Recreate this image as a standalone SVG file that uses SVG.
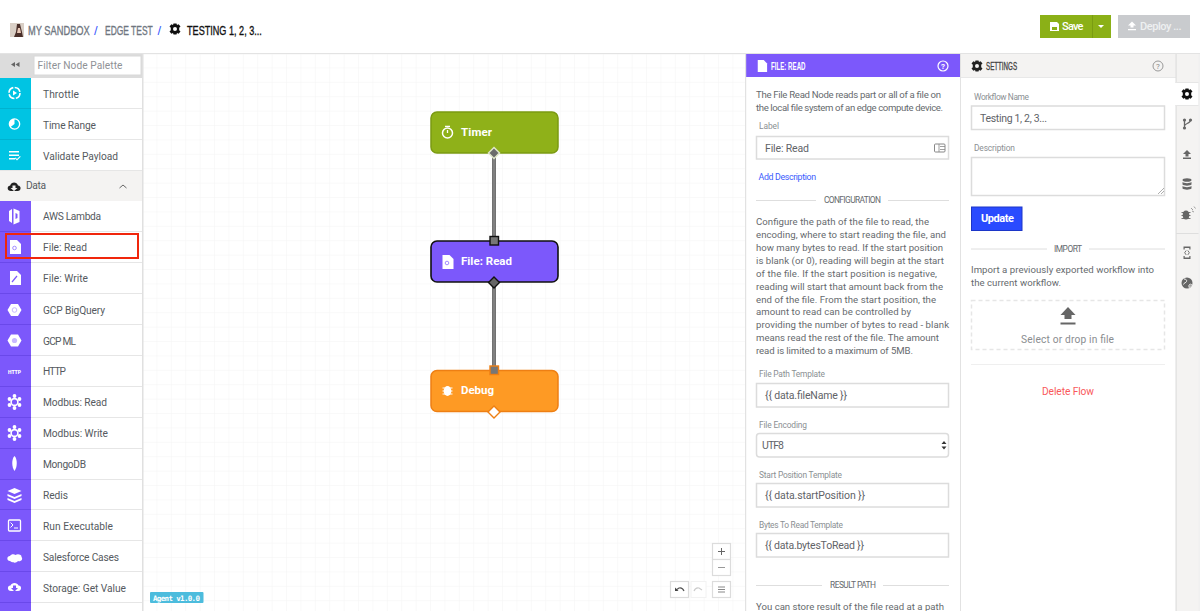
<svg xmlns="http://www.w3.org/2000/svg" width="1200" height="611" viewBox="0 0 1200 611">
<style>
text{font-family:Roboto,"Open Sans","Noto Sans","Liberation Sans",sans-serif;fill:#5f6368}
.cond{font-family:"Liberation Sans",Arial,sans-serif;font-size:13px;stroke-width:.35px}
.pal{font-size:10.200px;fill:#555a60}
.p{font-size:9.600px;fill:#666a6e}
.lb{font-size:8.400px;fill:#8b8f93}
.in{fill:#fff;stroke:#dcdcdc;stroke-width:1.5}
.val{font-size:10.500px;fill:#5f6368}
.sec{font-size:8.400px;fill:#666a6e}
.rule{stroke:#dedede;stroke-width:1;fill:none}
.ni{font-size:11.500px;font-weight:700;fill:#fff}
.ic{fill:#fff}
.ctl{fill:#fff;stroke:#dcdcdc;stroke-width:1.2}
</style>
<defs>
<pattern id="grid" width="14.4" height="14.4" patternUnits="userSpaceOnUse" x="143" y="54">
<path d="M14.4 0V14.4M0 14.4H14.4" fill="none" stroke="#f3f3f3" stroke-width="1"/>
</pattern>
<path id="doc" d="M-5-7H2L6-3V7H-5Z"/>
<path id="gear" d="M-1.500-5.500H1.500L2-4 3.600-4.700 5.500-2.400 4.200-1.200V1.200L5.500 2.400 3.600 4.700 2 4 1.500 5.500H-1.500L-2 4-3.600 4.700-5.500 2.400-4.200 1.200V-1.200L-5.500-2.400-3.600-4.700-2-4ZM0-2A2 2 0 1 0 0 2 2 2 0 1 0 0-2Z" fill-rule="evenodd"/>
<path id="hex" d="M-3.500-6H3.500L7 0 3.500 6H-3.500L-7 0Z"/>
<g id="mod"><circle r="3.400" fill="none" stroke="#fff" stroke-width="1.600"/><circle cx="-5" cy="-3" r="1.900"/><circle cx="5" cy="-3" r="1.900"/><circle cx="-5" cy="3" r="1.900"/><circle cx="5" cy="3" r="1.900"/><circle cy="-6" r="1.900"/><circle cy="6" r="1.900"/></g>
</defs>

<rect width="1200" height="611" fill="#fff"/>

<!-- header -->
<g id="header">
<rect x="10" y="23" width="14" height="14" fill="#d9cfc6"/>
<path d="M17 24h3l2 8 1 5h-9l2-5Z" fill="#4a2f2a"/>
<path d="M18 28h2l1 5h-4Z" fill="#e9c9b8"/>
<text transform="translate(28 34.500) scale(.715 1)" class="cond" style="fill:#6f7680;stroke:#6f7680">MY SANDBOX</text>
<text x="94" y="34.500" class="cond" style="fill:#3b5bfd">/</text>
<text transform="translate(105 34.500) scale(.65 1)" class="cond" style="fill:#6f7680;stroke:#6f7680">EDGE TEST</text>
<text x="157.500" y="34.500" class="cond" style="fill:#3b5bfd">/</text>
<use href="#gear" transform="translate(175 29)" style="fill:#111"/>
<text transform="translate(187 34.500) scale(.7 1)" class="cond" style="fill:#111;stroke:#111">TESTING 1, 2, 3...</text>
<rect x="1040" y="15" width="71" height="23" fill="#8bb017"/>
<path d="M1092.500 15V38" stroke="#7a9c12" stroke-width="1"/>
<path d="M1050 22h7l2 2v7h-9Z" fill="#fff"/>
<rect x="1052" y="27" width="5" height="3" fill="#8bb017"/>
<text x="1062" y="30" font-size="11" font-weight="500" style="fill:#fff" textLength="21.500">Save</text>
<path d="M1098 25h6l-3 3Z" fill="#fff"/>
<rect x="1118" y="15" width="72" height="23" fill="#c9cbce"/>
<path d="M1132 21.500l4 4h-2.500v2h-3v-2H1128ZM1128 29h8v1.200h-8Z" fill="#fff"/>
<text x="1140" y="30" font-size="11" font-weight="500" style="fill:#eef0f1" textLength="41.500">Deploy ...</text>
<rect x="0" y="53" width="1200" height="1.200" fill="#e3e3e3"/>
</g>

<!-- canvas -->
<rect x="143" y="54" width="603" height="557" fill="url(#grid)"/>

<!-- palette -->
<g id="palette">
<rect x="0" y="54" width="142" height="557" fill="#f4f3f2"/>
<rect x="0" y="54" width="142" height="24" fill="#dcdcdc"/>
<rect x="34" y="56" width="107" height="19" fill="#fff" stroke="#d8d8d8"/>
<text x="37.500" y="69" font-size="10.200" style="fill:#8f9296" textLength="85">Filter Node Palette</text>
<path d="M15 62v5l-4-2.500ZM19.500 62v5l-4-2.500Z" fill="#666"/>
<rect x="142" y="54" width="1.500" height="557" fill="#e0e0e0"/>
<g id="rows" fill="#fff">
<rect x="31" y="78" width="111" height="30"/><rect x="31" y="109" width="111" height="30"/><rect x="31" y="140" width="111" height="30"/>
<rect x="31" y="201" width="111" height="30"/><rect x="31" y="232" width="111" height="30"/><rect x="31" y="263" width="111" height="30"/><rect x="31" y="294" width="111" height="30"/><rect x="31" y="325" width="111" height="30"/><rect x="31" y="356" width="111" height="30"/><rect x="31" y="387" width="111" height="30"/><rect x="31" y="418" width="111" height="30"/><rect x="31" y="449" width="111" height="30"/><rect x="31" y="480" width="111" height="30"/><rect x="31" y="510" width="111" height="30"/><rect x="31" y="541" width="111" height="30"/><rect x="31" y="572" width="111" height="30"/><rect x="31" y="603" width="111" height="8"/>
</g>
<rect x="0" y="78" width="31" height="93" fill="#00c4e3"/>
<rect x="0" y="201" width="31" height="410" fill="#7c58fb"/>
<g stroke="#e6e6e6" stroke-width="1" fill="none"><path d="M0 108.500H142M0 139.500H142M0 170.500H142M0 231.500H142M0 262.500H142M0 293.500H142M0 324.500H142M0 355.500H142M0 386.500H142M0 417.500H142M0 448.500H142M0 479.500H142M0 509.500H142M0 540.500H142M0 571.500H142M0 602.500H142"/></g>
<g stroke="#6a48ea" stroke-width="1" fill="none"><path d="M0 231.500H31M0 262.500H31M0 293.500H31M0 324.500H31M0 355.500H31M0 386.500H31M0 417.500H31M0 448.500H31M0 479.500H31M0 509.500H31M0 540.500H31M0 571.500H31M0 602.500H31"/></g>
<path d="M0 108.500H31M0 139.500H31" stroke="#00b2cf"/>

<g>
<text class="pal" x="43" y="97.500" textLength="36">Throttle</text>
<text class="pal" x="43" y="128.500" textLength="53">Time Range</text>
<text class="pal" x="43" y="159.500" textLength="75">Validate Payload</text>
<text class="pal" x="26" y="189" textLength="20">Data</text>
<text class="pal" x="43" y="220" textLength="58">AWS Lambda</text>
<text class="pal" x="43" y="251" textLength="44">File: Read</text>
<text class="pal" x="43" y="282" textLength="45">File: Write</text>
<text class="pal" x="43" y="313.500" textLength="62">GCP BigQuery</text>
<text class="pal" x="43" y="344.500" textLength="33">GCP ML</text>
<text class="pal" x="43" y="375" textLength="23">HTTP</text>
<text class="pal" x="43" y="406" textLength="64">Modbus: Read</text>
<text class="pal" x="43" y="437" textLength="65">Modbus: Write</text>
<text class="pal" x="43" y="468" textLength="43">MongoDB</text>
<text class="pal" x="43" y="499" textLength="25">Redis</text>
<text class="pal" x="43" y="529.500" textLength="70">Run Executable</text>
<text class="pal" x="43" y="560.500" textLength="76">Salesforce Cases</text>
<text class="pal" x="43" y="591.500" textLength="83">Storage: Get Value</text>
</g>

<!-- palette icons -->
<g class="ic">
<circle cx="14.500" cy="93" r="5.500" fill="none" stroke="#fff" stroke-width="1.600" stroke-dasharray="7 1.500"/><path d="M13 90.500l4 2.500-4 2.500Z"/>
<circle cx="14.500" cy="124" r="5.800"/><path d="M14.500 124v-4.500a4.500 4.500 0 0 1 0 9 4.500 4.500 0 0 1-3.600-1.800Z" fill="#00c4e3"/>
<path d="M9 151h10v1.500H9ZM9 154.500h10v1.500H9ZM9 158h6v1.500H9ZM15.500 157.500l1.500 1.500 3-3 .7.7-3.700 3.800-2.200-2.300Z"/>
<path d="M11 191c-4 0-4.500-5-.8-5.500 1-4 6.800-4 7.800 0 3.500.3 3.500 5.500-.3 5.500Z" style="fill:#222"/>
<path d="M12.500 185.500h3v2.500h2l-3.500 3-3.500-3h2Z" fill="#f4f3f2"/>
<path d="M119.500 188l3.500-3 3.500 3" fill="none" stroke="#666" stroke-width="1"/>
<path d="M9 211l3-2v14l-3-2ZM13.500 208.500l6 2.500v11l-6 2.500ZM15.500 213v6l2-1v-4Z" fill-rule="evenodd"/>
<use href="#doc" x="15" y="247"/><use href="#doc" x="15" y="278"/>
<circle cx="14.500" cy="248" r="1.800" fill="none" stroke="#a48cff"/>
<path d="M12 282l5-6" stroke="#7c58fb" stroke-width="1.200"/>
<use href="#hex" x="14.500" y="310"/><circle cx="14.500" cy="310" r="2.300" fill="none" stroke="#c9b9ff"/>
<use href="#hex" x="14.500" y="340.500"/><circle cx="14.500" cy="340.500" r="2.600" fill="#c9b9ff"/>
<text x="14.500" y="373.500" font-size="5" font-weight="900" text-anchor="middle" style="fill:#fff">HTTP</text>
<use href="#mod" x="14.500" y="402"/><use href="#mod" x="14.500" y="433"/>
<path d="M14.500 456c3 3 3 11 0 15-3-4-3-12 0-15Z"/>
<path d="M14.500 488l7 3-7 3-7-3ZM7.500 494l7 3 7-3v2l-7 3-7-3ZM7.500 498l7 3 7-3v2l-7 3-7-3Z"/>
<rect x="8.500" y="520" width="12" height="11" rx="1" fill="none" stroke="#fff" stroke-width="1.300"/><path d="M10.500 522.500l2.500 2.500-2.500 2.500M14 528h4" fill="none" stroke="#fff"/>
<path d="M10 561c-3.500 0-3.500-5 0-5 1-2 4-2.500 5.500-1 2-1.500 6.500-.5 6 2 2 2.500-1 5-3.500 4-1.500 2-4 2-5 1-1 .5-2 0-3-1Z"/>
<path d="M11 591c-4 0-4-5.500-.5-5.500 1-3.500 7-3.500 8 0 3.500 0 3.500 5.500-.5 5.500Z"/><path d="M13 585.500h3v2.500h2l-3.500 3.500-3.500-3.500h2Z" fill="#7c58fb"/>
</g>
<rect x="6" y="234" width="132" height="24" fill="none" stroke="#f0260c" stroke-width="2"/>
</g>

<!-- bottom canvas widgets -->
<g id="agent">
<rect x="150" y="592" width="53.500" height="11" rx="1" fill="#4cbcdd"/>
<text x="153" y="600.500" font-size="7.500" font-weight="700" style="font-family:'DejaVu Sans Mono','Liberation Mono',monospace;fill:#fff" textLength="47">Agent v1.0.0</text>
</g>
<g id="controls">
<rect class="ctl" x="712.500" y="543.500" width="18" height="16"/>
<rect class="ctl" x="712.500" y="559.500" width="18" height="16"/>
<path d="M718 551.500h7M721.500 548v7" stroke="#666" stroke-width="1" fill="none"/>
<path d="M718 567.500h7" stroke="#999" stroke-width="1"/>
<rect class="ctl" x="670.500" y="581.500" width="18" height="16"/>
<rect x="691" y="581.500" width="15" height="16" fill="#fff" stroke="#f2f2f2"/>
<path d="M676 590l3-2c2-.5 4 .5 5 3" fill="none" stroke="#555" stroke-width="1.200"/><path d="M675 587.500v3.500h3.500Z" fill="#444"/>
<path d="M702 590l-3-2c-2-.5-4 .5-5 3" fill="none" stroke="#ccc" stroke-width="1.200"/>
<rect class="ctl" x="712.500" y="581.500" width="18" height="16"/>
<path d="M718 587h7M718 589.500h7M718 592h7" stroke="#888" stroke-width="1" fill="none"/>
</g>

<!-- connectors -->
<g id="connectors" fill="none">
<path d="M494 153V241" stroke="#4e4e4e" stroke-width="3.600"/><path d="M494 153V241" stroke="#808080" stroke-width="2"/>
<path d="M494 282V370" stroke="#4e4e4e" stroke-width="3.600"/><path d="M494 282V370" stroke="#808080" stroke-width="2"/>
</g>

<!-- nodes -->
<g id="node-timer">
<rect x="431" y="112" width="127" height="41" rx="6" fill="#8fb119" stroke="#7b9a12" stroke-width="1.500"/>
<circle cx="447.500" cy="133" r="5" fill="none" stroke="#fff" stroke-width="1.500"/><path d="M445 126.300h5M447.500 130v3" stroke="#fff" stroke-width="1.300"/>
<text class="ni" x="461" y="136" textLength="31">Timer</text>
<path d="M494 147.500l5.500 5.500-5.500 5.500-5.500-5.500Z" fill="#6b6b6b" stroke="#dfe6c8" stroke-width="1.500"/>
</g>
<g id="node-file-read">
<rect x="431" y="241" width="127" height="41" rx="6" fill="#7c58fb" stroke="#111" stroke-width="1.600"/>
<use href="#doc" x="447.500" y="262" fill="#fff"/><circle cx="447" cy="263" r="1.800" fill="none" stroke="#a48cff"/>
<text class="ni" x="461" y="265" textLength="51">File: Read</text>
<rect x="490" y="236.500" width="8.500" height="8.500" fill="#777" stroke="#111" stroke-width="1.400"/>
<path d="M494 277l5.500 5.500-5.500 5.500-5.500-5.500Z" fill="#666" stroke="#111" stroke-width="1.400"/>
</g>
<g id="node-debug">
<rect x="431" y="370.500" width="127" height="41" rx="6" fill="#fe9a24" stroke="#ee7f13" stroke-width="1.500"/>
<ellipse cx="447.500" cy="391" rx="3.800" ry="5" fill="#fff"/><path d="M442.500 388h10M442.500 391h10M442.500 394h10" stroke="#fff" fill="none"/>
<text class="ni" x="461" y="394" textLength="33">Debug</text>
<rect x="490" y="366" width="8.500" height="8.500" fill="#777" stroke="#ee7f13" stroke-width="1.400"/>
<path d="M494 406l6 6-6 6-6-6Z" fill="#fff" stroke="#ee7f13" stroke-width="1.400"/>
</g>

<!-- file read panel -->
<g id="panel-file-read">
<rect x="746" y="54" width="215" height="557" fill="#fff"/>
<rect x="746" y="54" width="215" height="23" fill="#7c58fb"/>
<rect x="745" y="54" width="1.200" height="557" fill="#e2e2e2"/>
<rect x="960" y="54" width="1" height="557" fill="#e2e2e2"/>
<use href="#doc" transform="translate(762 66) scale(.85)" fill="#fff"/>
<text transform="translate(771 70) scale(.56 1)" class="cond" font-weight="700" style="font-size:11px;fill:#fff">FILE: READ</text>
<circle cx="943" cy="66" r="5" fill="none" stroke="#fff" stroke-width="1.200"/>
<text x="943" y="69" font-size="8" font-weight="700" text-anchor="middle" style="fill:#fff">?</text>
<text class="p" x="756" y="97.500" textLength="185">The File Read Node reads part or all of a file on</text>
<text class="p" x="756" y="110.500" textLength="187">the local file system of an edge compute device.</text>
<text class="lb" x="759" y="129" textLength="20">Label</text>
<rect class="in" x="756.500" y="136.500" width="192" height="22.500"/>
<text class="val" x="765" y="151.500" textLength="44">File: Read</text>
<rect x="934.500" y="144" width="10.500" height="8" rx="1" fill="none" stroke="#888"/><path d="M939 144v8M940 146.500h5M940 149.500h5" stroke="#888" fill="none" stroke-width=".8"/>
<text x="758.500" y="180" font-size="8.800" style="fill:#3b5bfd" textLength="57.500">Add Description</text>
<path class="rule" d="M756 200.500H816M888 200.500H949"/>
<text class="sec" x="824" y="203" textLength="57">CONFIGURATION</text>
<g>
<text class="p" x="756" y="224.500" textLength="173">Configure the path of the file to read, the</text>
<text class="p" x="756" y="237.500" textLength="190">encoding, where to start reading the file, and</text>
<text class="p" x="756" y="250.500" textLength="187">how many bytes to read. If the start position</text>
<text class="p" x="756" y="263.500" textLength="188">is blank (or 0), reading will begin at the start</text>
<text class="p" x="756" y="276.500" textLength="181">of the file. If the start position is negative,</text>
<text class="p" x="756" y="289.500" textLength="187">reading will start that amount back from the</text>
<text class="p" x="756" y="302.500" textLength="180">end of the file. From the start position, the</text>
<text class="p" x="756" y="315" textLength="155">amount to read can be controlled by</text>
<text class="p" x="756" y="328" textLength="193">providing the number of bytes to read - blank</text>
<text class="p" x="756" y="341" textLength="183">means read the rest of the file. The amount</text>
<text class="p" x="756" y="354" textLength="157">read is limited to a maximum of 5MB.</text>
</g>
<text class="lb" x="759" y="377" textLength="66">File Path Template</text>
<rect class="in" x="756.500" y="383.500" width="192" height="23.500"/>
<text class="val" x="765" y="399" textLength="82">{{ data.fileName }}</text>
<text class="lb" x="759" y="427.500" textLength="48">File Encoding</text>
<rect class="in" x="756.500" y="433.500" width="192" height="23.500" rx="3"/>
<text class="val" x="762" y="449" textLength="22">UTF8</text>
<path d="M941.500 444l2.500-3 2.500 3ZM941.500 446.500l2.500 3 2.500-3Z" fill="#333"/>
<text class="lb" x="759" y="477.500" textLength="83">Start Position Template</text>
<rect class="in" x="756.500" y="483.500" width="192" height="23.500"/>
<text class="val" x="765" y="499" textLength="100">{{ data.startPosition }}</text>
<text class="lb" x="759" y="527.500" textLength="84">Bytes To Read Template</text>
<rect class="in" x="756.500" y="533.500" width="192" height="23.500"/>
<text class="val" x="765" y="549" textLength="99">{{ data.bytesToRead }}</text>
<path class="rule" d="M756 585.500H822M883 585.500H949"/>
<text class="sec" x="830" y="588" textLength="46">RESULT PATH</text>
<text class="p" x="756" y="609.500" textLength="188">You can store result of the file read at a path</text>
</g>

<!-- settings panel -->
<g id="panel-settings">
<rect x="961" y="54" width="215" height="557" fill="#fff"/>
<rect x="961" y="54" width="215" height="23" fill="#f4f3f2"/>
<rect x="961" y="77" width="215" height="1" fill="#e8e8e8"/>
<use href="#gear" transform="translate(977 66)" style="fill:#222"/>
<text transform="translate(986 70) scale(.565 1)" class="cond" style="font-size:11px;fill:#444;stroke:#444">SETTINGS</text>
<circle cx="1158" cy="66" r="5" fill="none" stroke="#999" stroke-width="1"/>
<text x="1158" y="69" font-size="8" text-anchor="middle" style="fill:#888">?</text>
<text class="lb" x="974" y="99.500" textLength="55">Workflow Name</text>
<rect class="in" x="971.500" y="106" width="193" height="23.500"/>
<text class="val" x="980" y="122" textLength="67">Testing 1, 2, 3...</text>
<text class="lb" x="974" y="151" textLength="41">Description</text>
<rect class="in" x="971.500" y="157.500" width="193" height="38"/>
<path d="M1158 194l6-6M1161 194l3-3" stroke="#999" stroke-width=".8"/>
<rect x="971.500" y="207" width="50.500" height="23.500" fill="#2a4bff" stroke="#1c36c8" stroke-width="1"/>
<text x="981" y="222" font-size="11" font-weight="700" style="fill:#fff" textLength="33">Update</text>
<path class="rule" d="M971 249H1047M1089 249H1165"/>
<text class="sec" x="1054" y="252" textLength="28">IMPORT</text>
<text class="p" x="971" y="272.500" textLength="183">Import a previously exported workflow into</text>
<text class="p" x="971" y="285.500" textLength="90">the current workflow.</text>
<rect x="971.500" y="300.500" width="193" height="49" fill="none" stroke="#e6e6e6" stroke-width="1.500" stroke-dasharray="4 3"/>
<path d="M1068 307l7.500 8h-4v4h-7v-4h-4ZM1060.500 322.500h15v2h-15Z" fill="#666"/>
<text x="1021" y="343" font-size="10.200" style="fill:#8a8d90" textLength="93">Select or drop in file</text>
<path d="M971 364.500H1165" stroke="#efefef" stroke-width="1"/>
<text x="1042" y="395" font-size="10.200" style="fill:#f9595b" textLength="52">Delete Flow</text>
</g>

<!-- right tabs -->
<g id="tabs">
<rect x="1176" y="54" width="24" height="557" fill="#f4f3f2"/>
<rect x="1175.500" y="54" width="1.200" height="557" fill="#dedede"/>
<rect x="1176" y="82.500" width="23" height="23" fill="#fff" stroke="#e6e6e6"/>
<rect x="1175" y="83" width="2" height="22" fill="#fff"/>
<use href="#gear" transform="translate(1187 94)" style="fill:#111"/>
<g fill="#666">
<circle cx="1184.500" cy="120" r="1.600"/><circle cx="1184.500" cy="128" r="1.600"/><circle cx="1190.500" cy="120" r="1.600"/>
<path d="M1184.500 120v8M1190.500 120c0 4-6 3-6 6" fill="none" stroke="#666" stroke-width="1.300"/>
<path d="M1187 150l4 4h-2.500v2.500h-3V154H1183ZM1183 157.500h8v1.500h-8Z"/>
<ellipse cx="1187" cy="180" rx="4.500" ry="1.800"/><path d="M1182.500 182c1.500 1.500 7.500 1.500 9 0v2.500c-1.500 1.500-7.500 1.500-9 0ZM1182.500 186c1.500 1.500 7.500 1.500 9 0v2.500c-1.500 1.500-7.500 1.500-9 0Z"/>
<ellipse cx="1186" cy="215" rx="3.300" ry="4.600"/><path d="M1181.500 212.500h9M1181.500 215.500h9M1181.500 218.500h9" stroke="#666" fill="none" stroke-width=".9"/><path d="M1191 208l2 2M1194 206.500l1.500 2M1192 211l2 1" stroke="#888" fill="none" stroke-width=".8"/>
<path d="M1183.500 246.500h7v1.500h-7ZM1183.500 257.500h7v1.500h-7ZM1183.500 246.500h1.200v3h-1.200ZM1189.300 246.500h1.200v3h-1.200ZM1183.500 256h1.200v3h-1.200ZM1189.300 256h1.200v3h-1.200Z"/>
<path d="M1186.200 250.500l-1.500 2.200 1.500 2.200M1187.800 250.500l1.500 2.200-1.500 2.200" fill="none" stroke="#666" stroke-width=".9"/>
<circle cx="1187" cy="283" r="5.500"/><path d="M1184 279c2 0 3 1 2.500 2.500s-2.500 1-3 3M1189 285c1-1 2-1 2.500-.5-.5 1.500-1.500 2.500-2.500 3Z" fill="none" stroke="#f4f3f2"/>
</g>
<rect x="1176" y="233" width="24" height="1" fill="#dedede"/>
<rect x="1198.500" y="54" width="1.500" height="557" fill="#f0f0f0"/>
</g>
</svg>
